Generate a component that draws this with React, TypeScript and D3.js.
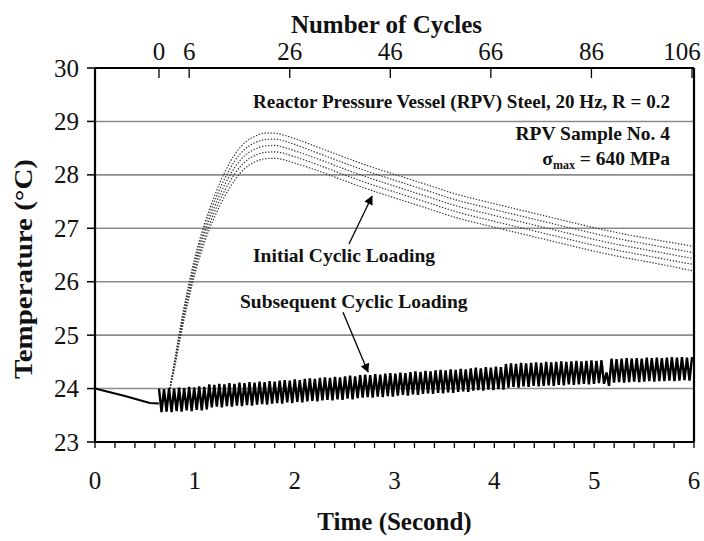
import React from 'react';
import * as d3 from 'd3';

const W = 704;
const H = 541;

const timeTicks = [0, 1, 2, 3, 4, 5, 6];
const tempTicks = [23, 24, 25, 26, 27, 28, 29, 30];
const gridTemps = [24, 25, 26, 27, 28, 29];
const cycleTicks = [0, 6, 26, 46, 66, 86, 106];

// solid line before cyclic loading starts
const preTime = [0, 0.15, 0.3, 0.45, 0.55, 0.64];
const preTemp = [24.0, 23.93, 23.86, 23.78, 23.73, 23.72];

// Initial cyclic loading: five dotted traces
const initTime = [0.75, 0.8, 0.85, 0.9, 0.95, 1.0, 1.1, 1.2, 1.3, 1.4, 1.5, 1.6, 1.7, 1.8, 1.9, 2.0, 2.2, 2.4, 2.6, 2.8, 3.0, 3.3, 3.6, 4.0, 4.4, 4.8, 5.2, 5.6, 6.0];
const initTrace1 = [24.0, 24.55, 25.1, 25.6, 26.05, 26.45, 27.1, 27.62, 28.05, 28.38, 28.6, 28.72, 28.78, 28.78, 28.74, 28.68, 28.54, 28.4, 28.26, 28.13, 28.01, 27.83, 27.65, 27.46, 27.28, 27.1, 26.93, 26.79, 26.66];
const initTrace2 = [24.0, 24.52, 25.05, 25.55, 25.98, 26.38, 27.02, 27.52, 27.93, 28.26, 28.48, 28.6, 28.66, 28.67, 28.63, 28.57, 28.43, 28.29, 28.15, 28.02, 27.9, 27.72, 27.54, 27.35, 27.17, 26.99, 26.82, 26.68, 26.54];
const initTrace3 = [24.0, 24.48, 25.0, 25.48, 25.9, 26.3, 26.93, 27.42, 27.82, 28.14, 28.36, 28.48, 28.54, 28.55, 28.51, 28.45, 28.32, 28.18, 28.04, 27.91, 27.79, 27.61, 27.43, 27.24, 27.06, 26.88, 26.71, 26.57, 26.43];
const initTrace4 = [24.0, 24.45, 24.95, 25.42, 25.83, 26.22, 26.84, 27.32, 27.71, 28.02, 28.24, 28.36, 28.42, 28.43, 28.4, 28.34, 28.21, 28.07, 27.93, 27.8, 27.68, 27.5, 27.32, 27.13, 26.95, 26.77, 26.6, 26.46, 26.32];
const initTrace5 = [24.0, 24.42, 24.9, 25.36, 25.76, 26.14, 26.75, 27.22, 27.6, 27.9, 28.12, 28.24, 28.3, 28.31, 28.28, 28.22, 28.1, 27.96, 27.82, 27.69, 27.57, 27.39, 27.21, 27.02, 26.84, 26.66, 26.49, 26.35, 26.2];
const initTraces = [initTrace1, initTrace2, initTrace3, initTrace4, initTrace5];

// Subsequent cyclic loading: peak (per cycle 0..106) and trough (per cycle 0..105) temperatures
const subPeak = [
  24.00, 23.99, 24.01, 24.00, 24.02, 24.01, 24.03, 24.02, 24.04, 24.03,
  24.08, 24.07, 24.09, 24.08, 24.10, 24.09, 24.11, 24.10, 24.12, 24.11,
  24.13, 24.12, 24.14, 24.13, 24.15, 24.16, 24.15, 24.17, 24.16, 24.18,
  24.19, 24.18, 24.20, 24.21, 24.20, 24.22, 24.21, 24.23, 24.24, 24.23,
  24.25, 24.26, 24.25, 24.27, 24.26, 24.28, 24.29, 24.28, 24.30, 24.29,
  24.31, 24.32, 24.31, 24.33, 24.32, 24.34, 24.35, 24.34, 24.36, 24.35,
  24.37, 24.36, 24.38, 24.39, 24.38, 24.40, 24.39, 24.41, 24.40, 24.46,
  24.47, 24.46, 24.48, 24.47, 24.48, 24.49, 24.48, 24.50, 24.49, 24.50,
  24.51, 24.50, 24.51, 24.52, 24.51, 24.52, 24.53, 24.52, 24.53, 24.30,
  24.56, 24.55, 24.56, 24.57, 24.56, 24.57, 24.56, 24.58, 24.57, 24.58,
  24.57, 24.58, 24.59, 24.58, 24.59, 24.58, 24.59,
];
const subTrough = [
  23.56, 23.57, 23.56, 23.58, 23.57, 23.59, 23.58, 23.60, 23.59, 23.61,
  23.65, 23.66, 23.65, 23.67, 23.66, 23.68, 23.67, 23.69, 23.68, 23.70,
  23.71, 23.70, 23.72, 23.73, 23.72, 23.74, 23.73, 23.75, 23.74, 23.76,
  23.77, 23.76, 23.78, 23.79, 23.78, 23.80, 23.79, 23.81, 23.80, 23.82,
  23.83, 23.84, 23.83, 23.85, 23.84, 23.86, 23.85, 23.87, 23.88, 23.87,
  23.89, 23.88, 23.90, 23.91, 23.90, 23.92, 23.91, 23.93, 23.92, 23.94,
  23.95, 23.94, 23.96, 23.97, 23.96, 23.98, 23.97, 23.99, 23.98, 24.02,
  24.03, 24.02, 24.04, 24.03, 24.05, 24.04, 24.05, 24.06, 24.05, 24.07,
  24.06, 24.08, 24.07, 24.08, 24.09, 24.08, 24.09, 24.10, 24.09, 24.05,
  24.11, 24.12, 24.11, 24.12, 24.13, 24.12, 24.13, 24.14, 24.13, 24.14,
  24.14, 24.15, 24.14, 24.15, 24.16, 24.15,
];

const FONT = "'Liberation Serif','Times New Roman',Times,serif";

export default function App() {
  const x = d3.scaleLinear().domain([0, 6]).range([95, 694]);
  const y = d3.scaleLinear().domain([23, 30]).range([442, 68]);
  const cyc = d3.scaleLinear().domain([0, 106]).range([159, 692]);

  const left = x(0), right = x(6), top = y(30), bottom = y(23);

  const preLine = d3.line<number>().x((_, i) => x(preTime[i])).y((d) => y(d))(preTemp) || '';

  const dotLine = d3
    .line<number>()
    .x((_, i) => x(initTime[i]))
    .y((d) => y(d))
    .curve(d3.curveMonotoneX);

  const zig: [number, number][] = [];
  subPeak.forEach((p, n) => {
    zig.push([cyc(n), y(p)]);
    if (n < subTrough.length) zig.push([cyc(n + 0.5), y(subTrough[n])]);
  });
  const zigPath = d3.line()(zig) || '';

  const minorTicks = d3.range(0, 6.0001, 0.2);

  return (
    <div>
      <style>{`body{margin:0;background:#fff}`}</style>
      <svg width={W} height={H} style={{ display: 'block' }} fontFamily={FONT}>
        <defs>
          <marker id="arrowhead" viewBox="0 0 10 10" refX="9" refY="5" markerWidth="10" markerHeight="9" markerUnits="userSpaceOnUse" orient="auto">
            <path d="M0,0 L10,5 L0,10 Z" fill="#000" />
          </marker>
        </defs>
        <rect x={0} y={0} width={W} height={H} fill="#fff" />

        {/* grid */}
        {gridTemps.map((t) => (
          <line key={'g' + t} x1={left} x2={right} y1={y(t)} y2={y(t)} stroke="#8c8c8c" strokeWidth={1.6} />
        ))}

        {/* y ticks & labels */}
        {tempTicks.map((t) => (
          <g key={'yt' + t}>
            <line x1={left - 8} x2={left} y1={y(t)} y2={y(t)} stroke="#000" strokeWidth={1.5} />
            <text x={left - 16} y={y(t)} dy="0.34em" textAnchor="end" fontSize={25} fill="#111">
              {t}
            </text>
          </g>
        ))}

        {/* bottom ticks */}
        {minorTicks.map((t, i) => (
          <line key={'bt' + i} x1={x(t)} x2={x(t)} y1={bottom} y2={bottom + 6} stroke="#000" strokeWidth={1.3} />
        ))}
        {timeTicks.map((t) => (
          <text key={'xl' + t} x={x(t)} y={489} textAnchor="middle" fontSize={25} fill="#111">
            {t}
          </text>
        ))}

        {/* top ticks */}
        {cycleTicks.map((c) => (
          <g key={'ct' + c}>
            <line x1={cyc(c)} x2={cyc(c)} y1={top} y2={top + 10} stroke="#000" strokeWidth={1.3} />
            <text x={Math.min(cyc(c), W - 22)} y={60} textAnchor="middle" fontSize={25} fill="#111">
              {c}
            </text>
          </g>
        ))}

        {/* data: pre-loading */}
        <path d={preLine} fill="none" stroke="#000" strokeWidth={2} />

        {/* data: initial cyclic loading */}
        {initTraces.map((tr, i) => (
          <path key={'it' + i} d={dotLine(tr) || ''} fill="none" stroke="#3a3a3a" strokeWidth={1.2} strokeDasharray="1.4 1.6" />
        ))}

        {/* data: subsequent cyclic loading */}
        <path d={zigPath} fill="none" stroke="#000" strokeWidth={2.4} strokeLinejoin="miter" />

        {/* frame */}
        <line x1={left} x2={right} y1={top} y2={top} stroke="#000" strokeWidth={2.2} />
        <line x1={left} x2={right} y1={bottom} y2={bottom} stroke="#000" strokeWidth={2.2} />
        <line x1={left} x2={left} y1={top} y2={bottom} stroke="#000" strokeWidth={2.2} />
        <line x1={right} x2={right} y1={top} y2={bottom} stroke="#000" strokeWidth={2.2} />

        {/* annotations */}
        <g fontWeight="bold" fontSize={19.5} fill="#111">
          <text x={x(5.76)} y={y(29.25)} textAnchor="end" textLength={417} lengthAdjust="spacingAndGlyphs">Reactor Pressure Vessel (RPV) Steel, 20 Hz, R = 0.2</text>
          <text x={x(5.76)} y={y(28.65)} textAnchor="end">RPV Sample No. 4</text>
          <text x={x(5.76)} y={y(28.18)} textAnchor="end">
            σ<tspan fontSize={12} dy={4}>max</tspan>
            <tspan dy={-4}> = 640 MPa</tspan>
          </text>
          <text x={x(1.583)} y={y(26.37)}>Initial Cyclic Loading</text>
          <text x={x(1.452)} y={y(25.51)}>Subsequent Cyclic Loading</text>
        </g>
        <line x1={x(2.544)} y1={y(26.706)} x2={x(2.775)} y2={y(27.6)} stroke="#000" strokeWidth={1.3} markerEnd="url(#arrowhead)" />
        <line x1={x(2.484)} y1={y(25.43)} x2={x(2.735)} y2={y(24.31)} stroke="#000" strokeWidth={1.3} markerEnd="url(#arrowhead)" />

        {/* axis titles */}
        <text x={(left + right) / 2 - 8} y={33} textAnchor="middle" fontWeight="bold" fontSize={25} fill="#111">
          Number of Cycles
        </text>
        <text x={(left + right) / 2} y={530} textAnchor="middle" fontWeight="bold" fontSize={25} fill="#111">
          Time (Second)
        </text>
        <text transform={`translate(32,269) rotate(-90)`} textAnchor="middle" fontWeight="bold" fontSize={26} fill="#111" textLength={220} lengthAdjust="spacingAndGlyphs">
          Temperature (°C)
        </text>
      </svg>
    </div>
  );
}
